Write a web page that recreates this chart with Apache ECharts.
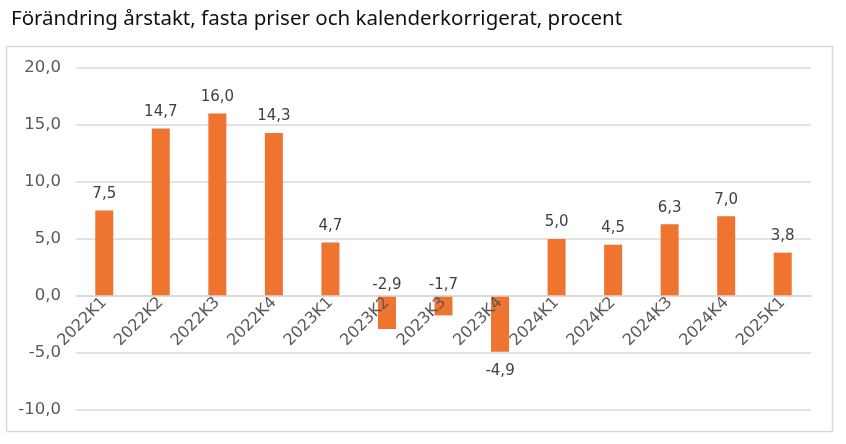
<!DOCTYPE html>
<html>
<head>
<meta charset="utf-8">
<script src="https://cdn.jsdelivr.net/npm/echarts@6/dist/echarts.min.js"></script>
<style>html,body{margin:0;padding:0;background:#fff;}#c{width:846px;height:444px;}</style>
</head>
<body>
<div id="c"></div>
<script>
const titleText = 'Förändring årstakt, fasta priser och kalenderkorrigerat, procent';
const categories = ['2022K1','2022K2','2022K3','2022K4','2023K1','2023K2','2023K3','2023K4','2024K1','2024K2','2024K3','2024K4','2025K1'];
const values = [7.5, 14.7, 16.0, 14.3, 4.7, -2.9, -1.7, -4.9, 5.0, 4.5, 6.3, 7.0, 3.8];
const labelAbove = [true, true, true, true, true, true, true, false, true, true, true, true, true];
const yTicks = {min: -10, max: 20, interval: 5};

const fmt = v => v.toFixed(1).replace('.', ',');
const chart = echarts.init(document.getElementById('c'), null, {renderer: 'canvas'});
const option = {
  animation: false,
  title: {
    text: titleText, left: 6, top: 4,
    textStyle: {fontFamily: 'Noto Sans', fontSize: 20.5, fontWeight: 'normal', color: '#111'}
  },
  graphic: [{
    type: 'rect', shape: {x: 6.5, y: 46.5, width: 826, height: 385},
    style: {fill: 'none', stroke: '#d9d9d9', lineWidth: 1.5}, silent: true, z: -1
  }],
  grid: {left: 76, right: 35, top: 68, bottom: 34, containLabel: false, outerBoundsMode: 'none'},
  xAxis: {
    type: 'category', data: categories, z: 5,
    axisLine: {show: true, onZero: true, onZeroAxisIndex: 0, lineStyle: {color: '#d9d9d9', width: 1.5}},
    axisTick: {show: false},
    axisLabel: {rotate: 45, margin: 4, interval: 0, color: '#595959', fontFamily: 'DejaVu Sans', fontSize: 16}
  },
  yAxis: {
    type: 'value', min: yTicks.min, max: yTicks.max, interval: yTicks.interval,
    axisLine: {show: false}, axisTick: {show: false},
    splitLine: {lineStyle: {color: '#d9d9d9', width: 1.5}},
    axisLabel: {formatter: fmt, margin: 15, color: '#595959', fontFamily: 'DejaVu Sans', fontSize: 16.5}
  },
  series: [{
    type: 'bar', barWidth: 18,
    itemStyle: {color: '#EE7430'},
    data: values.map((v, i) => ({
      value: v,
      label: labelAbove[i]
        ? {position: 'top', distance: v < 0 ? 3 : 9}
        : {position: 'bottom', distance: 12}
    })),
    label: {
      show: true, formatter: p => fmt(p.value),
      color: '#404040', fontFamily: 'DejaVu Sans', fontSize: 15
    }
  }]
};
chart.setOption(option);
// Move the category axis onto the value axis' zero line using the library's scale
const yZero = chart.convertToPixel({yAxisIndex: 0}, 0);
const yMin = chart.convertToPixel({yAxisIndex: 0}, yTicks.min);
if (Math.abs(yMin - yZero) > 1) {
  chart.setOption({xAxis: {axisLine: {onZero: false}, offset: -(yMin - yZero)}});
}
</script>
</body>
</html>
